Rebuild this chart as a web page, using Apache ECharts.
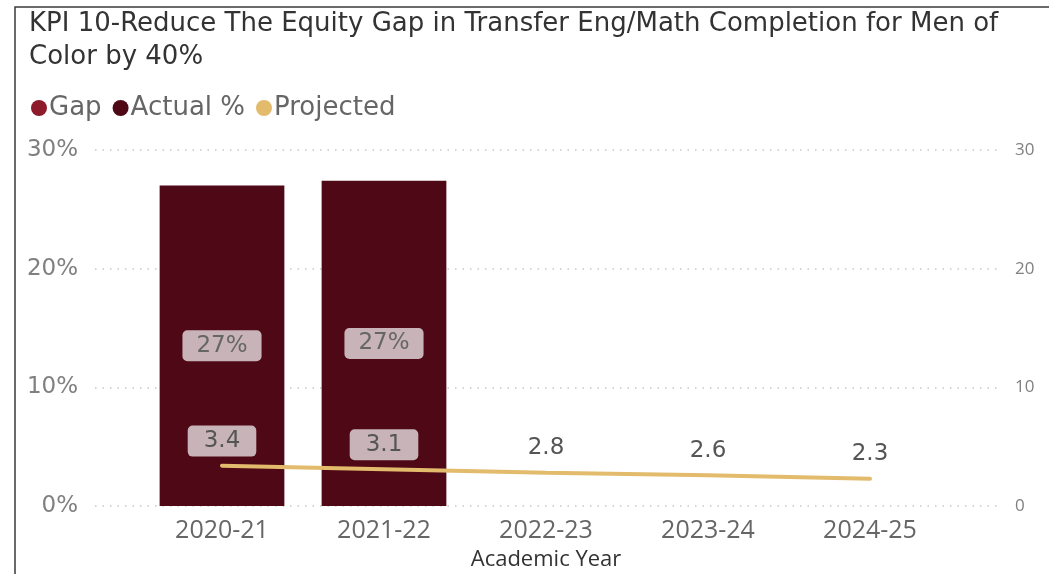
<!DOCTYPE html>
<html>
<head>
<meta charset="utf-8">
<script src="https://cdn.jsdelivr.net/npm/echarts@6/dist/echarts.min.js"></script>
<style>
  html, body { margin: 0; padding: 0; background: #fff; }
  #chart { width: 1049px; height: 574px; }
</style>
</head>
<body>
<div id="chart"></div>
<script>
// values
const years = ['2020-21', '2021-22', '2022-23', '2023-24', '2024-25'];
const actualPct = [27.0, 27.4, null, null, null];
const projected = [3.4, 3.1, 2.8, 2.6, 2.3];
const leftTicks = { min: 0, max: 30, interval: 10 };
const rightTicks = { min: 0, max: 30, interval: 10 };

const chart = echarts.init(document.getElementById('chart'));

const WIDE = '"DejaVu Sans", sans-serif';
const FONT = '"Open Sans", sans-serif';
const labelBox = '#c8b4b8';
const dotted = { type: [1.5, 6], color: '#c8c8c8', width: 1.5 };

// first two projected labels sit on top of bars, so they get a box
const projectedData = projected.map((v, i) => (actualPct[i] != null
  ? { value: v, label: { backgroundColor: labelBox, borderRadius: 5, padding: [4, 16], distance: 9 } }
  : v));

chart.setOption({
  animation: false,
  textStyle: { fontFamily: FONT },
  title: {
    text: 'KPI 10-Reduce The Equity Gap in Transfer Eng/Math Completion for Men of\nColor by 40%',
    left: 24,
    top: 3,
    textStyle: { fontSize: 26, fontWeight: 'normal', color: '#333', lineHeight: 33, fontFamily: WIDE }
  },
  legend: {
    left: 26,
    top: 90,
    icon: 'circle',
    itemWidth: 16,
    itemHeight: 16,
    itemGap: 11,
    textStyle: { fontSize: 26, color: '#666', padding: [0, 0, 0, -3], fontFamily: WIDE },
    data: ['Gap', 'Actual %', 'Projected']
  },
  graphic: [{
    type: 'rect',
    shape: { x: 15, y: 7, width: 1200, height: 700 },
    style: { fill: 'none', stroke: '#3a3a3a', lineWidth: 1.5 },
    silent: true
  }],
  grid: [
    { left: 141, right: 98, top: 150, bottom: 68, outerBoundsMode: 'none', containLabel: false },
    { left: 95, right: 49, top: 150, bottom: 68, outerBoundsMode: 'none', containLabel: false }
  ],
  xAxis: [
    {
      type: 'category',
      gridIndex: 0,
      data: years,
      axisLine: { show: false },
      axisTick: { show: false },
      axisLabel: { fontSize: 25, color: '#666', margin: 12 },
      name: 'Academic Year',
      nameLocation: 'middle',
      nameGap: 43,
      nameTextStyle: { fontSize: 22, color: '#333' }
    },
    { type: 'value', gridIndex: 1, show: false }
  ],
  yAxis: [
    {
      type: 'value', gridIndex: 1, position: 'left',
      min: leftTicks.min, max: leftTicks.max, interval: leftTicks.interval,
      axisLine: { show: false },
      axisTick: { show: false },
      axisLabel: { formatter: '{value}%', fontSize: 23, color: '#808080', margin: 17, fontFamily: WIDE },
      splitLine: { lineStyle: dotted }
    },
    {
      type: 'value', gridIndex: 1, position: 'right',
      min: rightTicks.min, max: rightTicks.max, interval: rightTicks.interval,
      axisLine: { show: false },
      axisTick: { show: false },
      axisLabel: { fontSize: 17, color: '#808080', margin: 15 },
      splitLine: { show: false }
    },
    { type: 'value', gridIndex: 0, min: leftTicks.min, max: leftTicks.max, show: false },
    { type: 'value', gridIndex: 0, min: rightTicks.min, max: rightTicks.max, show: false }
  ],
  series: [
    {
      name: 'Gap',
      type: 'line',
      xAxisIndex: 0,
      yAxisIndex: 3,
      color: '#8e1b2c',
      data: []
    },
    {
      name: 'Actual %',
      type: 'bar',
      xAxisIndex: 0,
      yAxisIndex: 2,
      color: '#4f0916',
      barCategoryGap: '23%',
      data: actualPct,
      label: {
        show: true,
        position: 'inside',
        formatter: p => Math.round(p.value) + '%',
        fontSize: 23,
        fontFamily: WIDE,
        color: '#666',
        backgroundColor: labelBox,
        borderRadius: 5,
        padding: [4, 14]
      }
    },
    {
      name: 'Projected',
      type: 'line',
      xAxisIndex: 0,
      yAxisIndex: 3,
      color: '#e2bb6c',
      symbol: 'circle',
      symbolSize: 0.1,
      lineStyle: { width: 4, cap: 'round' },
      data: projectedData,
      label: { show: true, position: 'top', distance: 13, fontSize: 23, color: '#555', fontFamily: WIDE }
    }
  ]
});
</script>
</body>
</html>
